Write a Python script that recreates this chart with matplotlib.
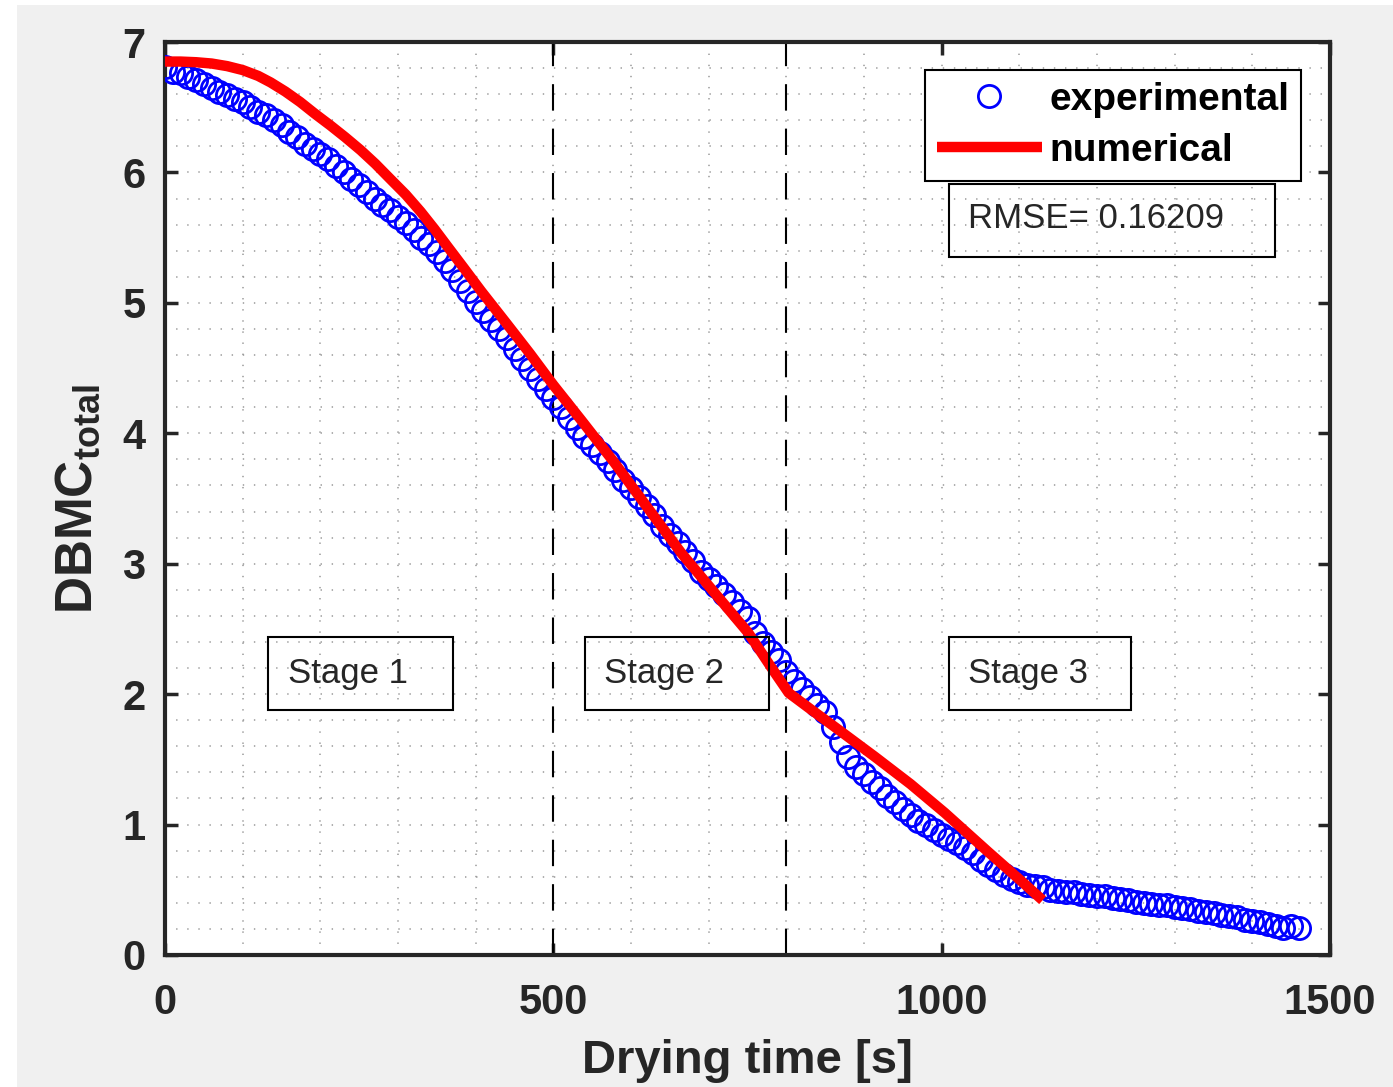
import numpy as np
import matplotlib
matplotlib.use("Agg")
import matplotlib.pyplot as plt
from matplotlib.patches import Rectangle
from matplotlib.ticker import MultipleLocator

# ---------------- data ----------------
exp_time = list(range(0, 1470, 10))
exp_dbmc = [6.81, 6.77, 6.76, 6.73, 6.71, 6.68, 6.65, 6.62, 6.59, 6.56,
            6.54, 6.50, 6.46, 6.44, 6.40, 6.36, 6.31, 6.27, 6.22, 6.18,
            6.14, 6.10, 6.05, 6.00, 5.95, 5.90, 5.85, 5.80, 5.75, 5.71,
            5.66, 5.61, 5.56, 5.50, 5.45, 5.39, 5.32, 5.25, 5.17, 5.09,
            5.01, 4.94, 4.87, 4.80, 4.73, 4.65, 4.57, 4.49, 4.42, 4.34,
            4.27, 4.20, 4.12, 4.04, 3.97, 3.91, 3.85, 3.79, 3.72, 3.64,
            3.58, 3.51, 3.44, 3.37, 3.29, 3.22, 3.16, 3.09, 3.02, 2.94,
            2.88, 2.83, 2.77, 2.71, 2.64, 2.58, 2.47, 2.39, 2.32, 2.26,
            2.17, 2.10, 2.04, 1.98, 1.92, 1.86, 1.75, 1.63, 1.52, 1.44,
            1.39, 1.33, 1.28, 1.22, 1.17, 1.12, 1.07, 1.03, 1.00, 0.96,
            0.92, 0.89, 0.86, 0.82, 0.78, 0.73, 0.69, 0.65, 0.61, 0.58,
            0.56, 0.54, 0.53, 0.52, 0.50, 0.49, 0.48, 0.48, 0.47, 0.46,
            0.45, 0.45, 0.44, 0.43, 0.42, 0.41, 0.40, 0.39, 0.38, 0.38,
            0.37, 0.36, 0.35, 0.34, 0.33, 0.32, 0.31, 0.30, 0.29, 0.27,
            0.26, 0.25, 0.24, 0.22, 0.21, 0.22, 0.21]

num_time = [0, 20, 40, 60, 80, 100, 120, 136, 155, 174, 193, 213, 232, 252,
            271, 290, 310, 329, 347, 364, 385, 407, 440, 470, 500, 536, 578,
            620, 665, 710, 751, 780, 803, 830, 862, 914, 960, 1004, 1060,
            1100, 1130]
num_dbmc = [6.85, 6.85, 6.845, 6.835, 6.815, 6.785, 6.74, 6.69, 6.62, 6.54,
            6.45, 6.36, 6.27, 6.17, 6.065, 5.95, 5.83, 5.70, 5.565, 5.43,
            5.265, 5.09, 4.84, 4.61, 4.37, 4.10, 3.78, 3.44, 3.08, 2.76,
            2.47, 2.21, 2.01, 1.89, 1.75, 1.52, 1.31, 1.09, 0.79, 0.58,
            0.42]

stage_bounds = [500, 800]
stage_labels = ["Stage 1", "Stage 2", "Stage 3"]
rmse_text = "RMSE= 0.16209"
x_ticks = [0, 500, 1000, 1500]
y_ticks = [0, 1, 2, 3, 4, 5, 6, 7]

# ---------------- style ----------------
plt.rcParams['font.family'] = ['Liberation Sans', 'DejaVu Sans']
plt.rcParams['mathtext.fontset'] = 'custom'
plt.rcParams['mathtext.bf'] = 'Liberation Sans:bold'
plt.rcParams['mathtext.rm'] = 'Liberation Sans'
plt.rcParams['lines.scale_dashes'] = False
dark = '#262626'

fig = plt.figure(figsize=(13.93, 10.87), dpi=100)
fig.patch.set_facecolor('white')
fig.patches.append(Rectangle((17/1393, 0), 1, 1 - 5/1087, transform=fig.transFigure,
                             facecolor='#f0f0f0', edgecolor='none', zorder=-10))

ax = fig.add_axes([165/1393, 1 - 955/1087, (1330-165)/1393, (955-42)/1087])
ax.set_facecolor('white')

ax.plot(exp_time, exp_dbmc, linestyle='none', marker='o', markersize=16,
        markerfacecolor='none', markeredgecolor='#0000ff', markeredgewidth=2.0,
        label='experimental', zorder=3)
ax.plot(num_time, num_dbmc, color='#ff0000', linewidth=7.5, solid_capstyle='butt',
        solid_joinstyle='round', label='numerical', zorder=4)

for b in stage_bounds:
    ax.axvline(b, color='black', linewidth=1.5, linestyle=(0, (19, 13)), zorder=2)

ax.set_xlim(0, 1500)
ax.set_ylim(0, 7)
ax.set_xticks(x_ticks)
ax.set_yticks(y_ticks)
ax.xaxis.set_minor_locator(MultipleLocator(100))
ax.yaxis.set_minor_locator(MultipleLocator(0.2))
ax.grid(True, which='both', color='#999999', linestyle=(0, (1, 7)), linewidth=1.1, zorder=0)
ax.set_axisbelow(True)

ax.tick_params(which='major', direction='in', length=9, width=2.5, color=dark,
               top=True, right=True, labelsize=30, labelcolor=dark)
ax.tick_params(axis='x', which='major', pad=20)
ax.tick_params(axis='y', which='major', pad=14)
ax.tick_params(which='minor', length=0)
for lab in ax.get_xticklabels() + ax.get_yticklabels():
    lab.set_fontweight('bold')
for sp in ax.spines.values():
    sp.set_linewidth(3)
    sp.set_color(dark)

ax.set_xlabel('Drying time [s]', fontsize=34, fontweight='bold', color=dark, labelpad=12)
ax.set_ylabel(r'$\mathbf{DBMC}_{\mathbf{total}}$', fontsize=37, color=dark, labelpad=14)

# stage boxes
stage_boxes = [(133, 370.5), (541, 778), (1009, 1244)]
stage_text_x = [159, 565, 1034]
for (x0, x1), tx, lab in zip(stage_boxes, stage_text_x, stage_labels):
    ax.add_patch(Rectangle((x0, 1.878), x1 - x0, 2.438 - 1.878, facecolor='none',
                           edgecolor='black', linewidth=1.5, zorder=6))
    ax.text(tx, 2.16, lab, fontsize=25, color=dark, ha='left', va='center', zorder=6)

# RMSE box
ax.add_patch(Rectangle((1009, 5.351), 1429 - 1009, 5.911 - 5.351, facecolor='none',
                       edgecolor='black', linewidth=1.5, zorder=6))
ax.text(1034, 5.65, rmse_text, fontsize=25, color=dark, ha='left', va='center', zorder=6)

leg = ax.legend(loc='upper right', bbox_to_anchor=((1301-165)/1165, (955-70)/913),
                borderaxespad=0, prop={'weight': 'bold', 'size': 28},
                handlelength=2.7, handletextpad=0.2, labelspacing=0.39, borderpad=0.3,
                fancybox=False, framealpha=1, edgecolor='black')
leg.get_frame().set_linewidth(1.5)
leg.set_zorder(10)

fig.savefig('out.png', dpi=100, facecolor=fig.get_facecolor())
